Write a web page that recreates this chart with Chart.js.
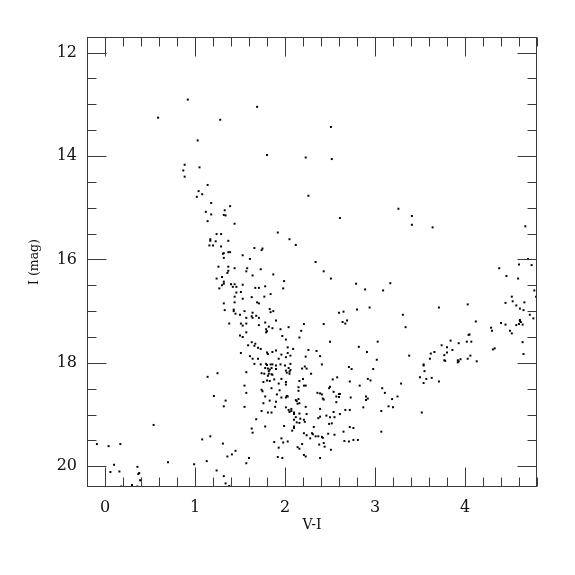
<!DOCTYPE html>
<html>
<head>
<meta charset="utf-8">
<script src="https://cdn.jsdelivr.net/npm/chart.js@4.4.1/dist/chart.umd.min.js"></script>
<style>
  html, body { margin: 0; padding: 0; background: #fff; }
  #wrap { width: 575px; height: 575px; }
</style>
</head>
<body>
<div id="wrap"><canvas id="cmd"></canvas></div>
<script>
// axis ticks
const xTicks = [0, 1, 2, 3, 4];
const yTicks = [12, 14, 16, 18, 20];

// stars as [V-I, I], grouped roughly by region of the diagram
const brightStars = [
  [0.92, 12.91], [0.59, 13.26], [1.28, 13.30], [1.03, 13.70], [0.885, 14.17], [1.05, 14.22],
  [0.87, 14.28], [0.885, 14.40], [1.14, 14.56], [1.69, 13.05], [2.51, 13.44], [1.80, 13.98],
  [2.23, 14.03], [2.52, 14.06]
];
const blueBranch = [
  [1.04, 14.68], [1.08, 14.74], [1.02, 14.79], [1.18, 14.91], [1.39, 14.97], [1.33, 15.05],
  [1.12, 15.08], [1.18, 15.13], [1.32, 15.14], [1.34, 15.15], [1.14, 15.26], [1.44, 15.31],
  [1.24, 15.51], [1.29, 15.51], [1.17, 15.61], [1.17, 15.64], [1.23, 15.65], [1.37, 15.64],
  [1.16, 15.73], [1.20, 15.73], [1.29, 15.75], [1.32, 15.88], [1.31, 15.89], [1.37, 15.86],
  [1.39, 15.86], [1.32, 15.97], [1.26, 16.14], [1.37, 16.14], [1.44, 16.17], [1.37, 16.22],
  [1.36, 16.26], [1.30, 16.34], [1.24, 16.37], [1.32, 16.43], [1.32, 16.47], [1.30, 16.50],
  [1.40, 16.48], [1.42, 16.53], [1.44, 16.48], [1.46, 16.53], [1.27, 16.56], [1.46, 16.64],
  [1.44, 16.72], [1.44, 16.83], [1.32, 16.85], [1.33, 16.98], [1.43, 16.97], [1.43, 17.00],
  [1.45, 17.05], [1.38, 17.24]
];
const upperMiddle = [
  [2.26, 14.77], [2.61, 15.20], [1.92, 15.48], [2.05, 15.61], [2.12, 15.72], [1.66, 15.78],
  [1.74, 15.82], [1.75, 15.79], [1.53, 15.92], [1.61, 15.99], [2.34, 16.05], [1.58, 16.17],
  [1.57, 16.23], [1.73, 16.19], [2.43, 16.23], [1.64, 16.31], [1.87, 16.29], [2.51, 16.37],
  [1.99, 16.42], [1.53, 16.49], [2.79, 16.47], [1.67, 16.55], [1.71, 16.55], [1.78, 16.52],
  [1.98, 16.56], [2.89, 16.58], [3.09, 16.60], [1.51, 16.63], [1.84, 16.67], [1.63, 16.73],
  [1.77, 16.72], [1.53, 16.76], [1.69, 16.83], [1.71, 16.85], [1.83, 16.96], [1.87, 17.00],
  [1.84, 17.02], [1.55, 17.00], [1.64, 17.03], [2.80, 16.97], [2.94, 16.93], [2.60, 17.03],
  [2.65, 17.01], [1.50, 17.07], [1.63, 17.10], [1.64, 17.13], [1.68, 17.09], [1.57, 17.13],
  [1.71, 17.13], [1.90, 17.18], [2.64, 17.21], [2.69, 17.18], [2.67, 17.24], [1.51, 17.24],
  [1.53, 17.28], [1.57, 17.24], [1.78, 17.22], [1.71, 17.27], [1.82, 17.30], [1.86, 17.33],
  [2.21, 17.25], [2.43, 17.25], [2.04, 17.31], [1.95, 17.35], [2.18, 17.38], [1.79, 17.35],
  [1.79, 17.41], [1.80, 17.39], [1.57, 17.41], [1.50, 17.47], [1.53, 17.50], [1.97, 17.48],
  [2.16, 17.51]
];
const redBranchUpper = [
  [3.26, 15.02], [3.41, 15.16], [3.41, 15.33], [3.64, 15.38], [4.67, 15.36], [4.70, 15.99],
  [4.60, 16.10], [4.74, 16.11], [4.38, 16.17], [4.46, 16.32], [4.59, 16.37], [3.17, 16.46],
  [4.77, 16.60], [4.79, 16.72], [4.52, 16.72], [4.53, 16.81], [4.45, 16.84], [4.66, 16.83],
  [4.57, 16.89], [3.71, 16.93], [4.03, 16.87], [4.61, 16.95], [4.65, 16.98], [3.31, 17.07],
  [4.72, 17.07], [4.76, 17.14], [4.61, 17.17], [4.61, 17.19], [4.62, 17.21], [4.64, 17.26],
  [4.60, 17.25], [4.57, 17.27], [4.40, 17.23], [4.45, 17.26], [4.12, 17.20], [3.34, 17.31],
  [4.29, 17.32], [4.30, 17.38], [4.50, 17.38], [4.52, 17.43], [4.05, 17.45], [4.04, 17.46]
];
const faintStars = [
  [1.14, 18.27], [1.25, 18.20], [1.21, 18.64], [1.34, 18.73], [1.32, 18.84], [0.54, 19.20],
  [1.08, 19.48], [1.17, 19.42], [1.31, 19.56], [1.45, 19.70], [1.41, 19.77], [1.36, 19.81],
  [-0.09, 19.57], [0.04, 19.61], [0.17, 19.57], [0.10, 19.97], [0.06, 20.11], [0.16, 20.10],
  [0.36, 20.01], [0.38, 20.13], [0.37, 20.15], [0.39, 20.27], [0.30, 20.36], [0.36, 20.39],
  [0.18, 20.39], [0.70, 19.92], [0.99, 19.96], [1.13, 19.90], [1.24, 20.08], [1.32, 20.19],
  [1.34, 20.33], [1.38, 20.38]
];
const clump = [
  [2.01, 17.55], [2.50, 17.59], [3.03, 17.59], [1.63, 17.60], [1.59, 17.66], [1.67, 17.63],
  [1.66, 17.67], [1.70, 17.71], [1.73, 17.73], [2.03, 17.70], [2.09, 17.73], [2.26, 17.75],
  [2.35, 17.77], [2.82, 17.69], [2.91, 17.79], [1.51, 17.81], [1.61, 17.87], [1.64, 17.92],
  [1.70, 17.92], [1.80, 17.80], [1.81, 17.83], [1.86, 17.79], [1.90, 17.76], [1.96, 17.84],
  [2.03, 17.81], [2.06, 17.86], [2.01, 17.89], [1.93, 17.92], [2.23, 17.88], [2.39, 17.87],
  [3.02, 17.94], [1.66, 18.02], [1.73, 18.03], [1.79, 18.02], [1.80, 18.04], [1.84, 18.03],
  [1.86, 18.03], [1.90, 18.05], [1.95, 18.03], [2.00, 18.05], [2.06, 18.02], [2.04, 18.10],
  [2.41, 18.03], [2.71, 18.08], [2.74, 18.12], [2.98, 18.12], [1.57, 18.18], [1.78, 18.10],
  [1.81, 18.11], [1.83, 18.13], [1.85, 18.10], [1.90, 18.12], [1.74, 18.20], [1.77, 18.21],
  [1.82, 18.16], [1.82, 18.21], [1.85, 18.22], [1.81, 18.25], [1.86, 18.23], [2.01, 18.15],
  [2.02, 18.19], [2.05, 18.17], [2.06, 18.14], [2.05, 18.21], [2.19, 18.11], [2.22, 18.07],
  [2.24, 18.11], [2.29, 18.21], [2.20, 18.31], [2.16, 18.35], [1.76, 18.37], [1.80, 18.34],
  [1.83, 18.35], [1.88, 18.32], [1.93, 18.40], [1.96, 18.31], [2.01, 18.37], [2.01, 18.42],
  [2.53, 18.32], [2.58, 18.28], [2.72, 18.36], [2.92, 18.31], [2.95, 18.34], [1.55, 18.44],
  [1.85, 18.49], [1.94, 18.53], [2.15, 18.47], [2.21, 18.44], [2.23, 18.44], [2.49, 18.49],
  [2.50, 18.46], [2.83, 18.44], [3.08, 18.49], [1.74, 18.52], [1.75, 18.55], [2.15, 18.54],
  [2.36, 18.58], [2.39, 18.59], [2.41, 18.61], [2.54, 18.56], [2.60, 18.60], [2.61, 18.60],
  [3.11, 18.58], [1.57, 18.58], [1.78, 18.65], [1.91, 18.61], [1.96, 18.67], [2.01, 18.67],
  [2.02, 18.64], [2.03, 18.65], [2.42, 18.69], [2.43, 18.71], [2.57, 18.65], [2.60, 18.66],
  [2.73, 18.67], [2.90, 18.65], [2.90, 18.72], [2.92, 18.69], [1.76, 18.78], [1.83, 18.73],
  [1.90, 18.75], [2.12, 18.72], [2.13, 18.74], [2.15, 18.70], [2.14, 18.79], [2.16, 18.78],
  [2.57, 18.76], [1.55, 18.85], [1.89, 18.85], [2.01, 18.86], [2.04, 18.91], [2.07, 18.89],
  [2.23, 18.85], [2.39, 18.89], [2.87, 18.86], [2.67, 18.91], [2.72, 18.91], [3.07, 18.93],
  [1.74, 18.93], [1.81, 18.96], [1.85, 18.96], [2.05, 18.95], [2.07, 18.93], [2.10, 18.96],
  [2.10, 18.99], [2.16, 18.98], [2.24, 18.99], [2.46, 19.02], [2.54, 18.95], [2.61, 18.99],
  [2.50, 19.05], [2.55, 19.05], [2.37, 19.07], [2.39, 19.04], [2.12, 19.05], [2.17, 19.08],
  [2.21, 19.10], [2.10, 19.10], [1.68, 19.09], [2.13, 19.15], [2.16, 19.16], [2.22, 19.14],
  [2.32, 19.24], [2.49, 19.18], [2.52, 19.17], [1.78, 19.23], [1.99, 19.22], [2.10, 19.23],
  [2.10, 19.26], [1.63, 19.27], [1.64, 19.35], [2.08, 19.31], [2.21, 19.36], [2.30, 19.36],
  [2.31, 19.38], [2.24, 19.40], [2.28, 19.46], [2.34, 19.42], [2.37, 19.42], [2.41, 19.43],
  [2.42, 19.45], [2.48, 19.37], [2.55, 19.39], [2.65, 19.33], [2.72, 19.24], [2.76, 19.26],
  [3.07, 19.33], [2.66, 19.51], [2.71, 19.52], [2.76, 19.49], [2.81, 19.49], [1.96, 19.46],
  [1.88, 19.53], [1.98, 19.54], [2.03, 19.52], [2.19, 19.57], [2.38, 19.58], [2.43, 19.55],
  [2.44, 19.62], [1.93, 19.64], [2.14, 19.63], [2.16, 19.66], [2.51, 19.68], [2.21, 19.78],
  [2.23, 19.81], [2.39, 19.84], [1.92, 19.82], [1.97, 19.84], [1.60, 19.84], [1.57, 19.94]
];
const redBranchLower = [
  [4.64, 17.60], [4.65, 17.83], [3.84, 17.57], [3.74, 17.66], [3.80, 17.70], [3.93, 17.62],
  [4.02, 17.59], [4.07, 17.59], [4.31, 17.74], [4.33, 17.72], [3.86, 17.75], [3.66, 17.79],
  [3.62, 17.82], [3.80, 17.80], [3.77, 17.85], [3.38, 17.86], [3.61, 17.92], [3.77, 17.95],
  [3.78, 17.96], [3.92, 17.95], [3.92, 17.99], [3.93, 17.97], [3.95, 17.93], [4.03, 17.92],
  [4.06, 17.86], [4.13, 17.97], [3.54, 18.03], [3.54, 18.05], [3.55, 18.16], [3.50, 18.28],
  [3.57, 18.31], [3.63, 18.29], [3.71, 18.36], [3.54, 18.39], [3.29, 18.40], [3.25, 18.65],
  [3.19, 18.70], [3.15, 18.84], [3.20, 18.86], [3.52, 18.96]
];

const stars = [].concat(brightStars, blueBranch, upperMiddle, redBranchUpper, faintStars, clump, redBranchLower)
  .map(p => ({ x: p[0], y: p[1] }));

const xMin = -0.2, xMax = 4.8;
const yMin = 11.7, yMax = 20.4;

// box with inward ticks on all four sides
const frameTicks = {
  id: 'frameTicks',
  afterDraw(chart) {
    const ctx = chart.ctx;
    const a = chart.chartArea;
    const xs = chart.scales.x, ys = chart.scales.y;
    ctx.save();
    ctx.strokeStyle = '#3a3a3a';
    ctx.lineWidth = 1;
    const L = Math.round(a.left) + 0.5, R = Math.round(a.right) - 0.5;
    const T = Math.round(a.top) + 0.5, B = Math.round(a.bottom) - 0.5;
    ctx.strokeRect(L, T, R - L, B - T);
    ctx.beginPath();
    for (let i = -1; i <= 24; i++) {
      const px = Math.round(xs.getPixelForValue(i * 0.2)) + 0.5;
      const len = i % 5 === 0 ? 19 : 9;
      ctx.moveTo(px, B); ctx.lineTo(px, B - len);
      ctx.moveTo(px, T); ctx.lineTo(px, T + len);
    }
    for (let i = 24; i <= 40; i++) {
      const v = i * 0.5;
      const py = Math.round(ys.getPixelForValue(v)) + 0.5;
      const len = i % 4 === 0 ? 19 : 9;
      ctx.moveTo(L, py); ctx.lineTo(L + len, py);
      ctx.moveTo(R, py); ctx.lineTo(R - len, py);
    }
    ctx.stroke();
    ctx.restore();
  }
};

new Chart(document.getElementById('cmd'), {
  type: 'scatter',
  data: {
    datasets: [{
      data: stars,
      pointStyle: 'rect',
      pointRadius: 1.4,
      pointBorderWidth: 0,
      backgroundColor: '#000',
      borderColor: '#000'
    }]
  },
  options: {
    responsive: true,
    maintainAspectRatio: false,
    animation: false,
    events: [],
    layout: { padding: { top: 37, right: 38, left: 0, bottom: 0 } },
    plugins: { legend: { display: false }, tooltip: { enabled: false } },
    scales: {
      x: {
        type: 'linear',
        min: xMin,
        max: xMax,
        grid: { display: false, drawTicks: false },
        border: { display: false },
        afterBuildTicks: s => { s.ticks = xTicks.map(v => ({ value: v })); },
        afterFit: s => { s.height = 88; },
        ticks: {
          padding: 11,
          color: '#111',
          maxRotation: 0,
          font: { family: 'DejaVu Serif', size: 16 }
        },
        title: {
          display: true,
          text: 'V-I',
          color: '#111',
          font: { family: 'DejaVu Serif', size: 14 },
          padding: { top: 0, bottom: 41 }
        }
      },
      y: {
        type: 'linear',
        reverse: true,
        min: yMin,
        max: yMax,
        grid: { display: false, drawTicks: false },
        border: { display: false },
        afterBuildTicks: s => { s.ticks = yTicks.map(v => ({ value: v })); },
        afterFit: s => { s.width = 87; },
        ticks: {
          padding: 10,
          color: '#111',
          font: { family: 'DejaVu Serif', size: 16 }
        },
        title: {
          display: true,
          text: 'I (mag)',
          color: '#111',
          font: { family: 'DejaVu Serif', size: 12.5 },
          padding: { top: 27, bottom: 0 }
        }
      }
    }
  },
  plugins: [frameTicks]
});
</script>
</body>
</html>
